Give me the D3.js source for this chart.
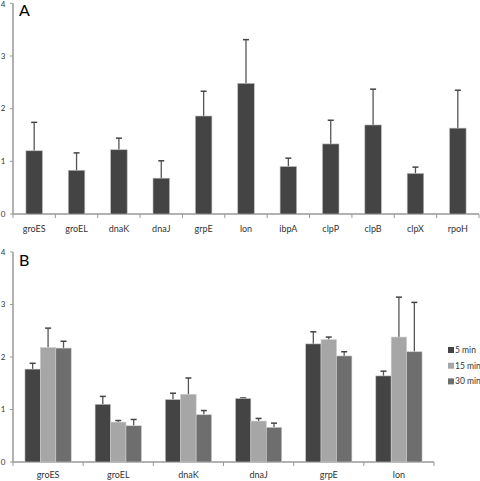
<!DOCTYPE html>
<html><head><meta charset="utf-8">
<script src="https://cdn.jsdelivr.net/npm/d3@7"></script>
<style>body{margin:0;background:#fff}svg{display:block}text{font-family:Lato,"Liberation Sans",sans-serif;fill:#333}</style>
</head><body><svg id="c" width="480" height="481"></svg>
<script>
const genesA = ["groES","groEL","dnaK","dnaJ","grpE","lon","ibpA","clpP","clpB","clpX","rpoH"];
const valuesA = [1.20,0.83,1.22,0.68,1.86,2.48,0.90,1.33,1.69,0.77,1.63];
const errTopA = [1.74,1.16,1.44,1.01,2.33,3.31,1.06,1.78,2.37,0.89,2.35];

const genesB = ["groES","groEL","dnaK","dnaJ","grpE","lon"];
const seriesB = ["5 min","15 min","30 min"];
const values5 = [1.77,1.10,1.19,1.21,2.25,1.64];
const values15 = [2.18,0.76,1.29,0.78,2.33,2.38];
const values30 = [2.17,0.69,0.90,0.66,2.02,2.10];
const errTop5 = [1.88,1.25,1.31,1.22,2.48,1.73];
const errTop15 = [2.55,0.79,1.60,0.83,2.38,3.14];
const errTop30 = [2.30,0.81,0.98,0.74,2.10,3.04];
const yTicks = [0,1,2,3,4];
const colors = ["#444444","#a6a6a6","#6e6e6e"];

const svg = d3.select("#c");

function drawAxes(g, x, y, x0, x1, labelOff) {
  g.append("line").attr("x1",x0).attr("x2",x0).attr("y1",y(4)).attr("y2",y(0))
    .attr("stroke","#999").attr("stroke-width",1.5);
  yTicks.forEach(t=>{
    g.append("line").attr("x1",x0-3).attr("x2",x0).attr("y1",y(t)).attr("y2",y(t)).attr("stroke","#999");
    g.append("text").attr("x",5.5).attr("y",Math.max(y(t),4.5)).attr("dy","0.35em").attr("text-anchor","end")
      .attr("font-size",8).text(t);
  });
  g.append("line").attr("x1",x0).attr("x2",x1).attr("y1",y(0)).attr("y2",y(0))
    .attr("stroke","#999").attr("stroke-width",1.5);
  const dom = x.domain();
  const edges = dom.map(d=>x(d)).concat([x(dom[dom.length-1])+x.step()]);
  edges.forEach(e=>{
    g.append("line").attr("x1",e).attr("x2",e).attr("y1",y(0)).attr("y2",y(0)+4).attr("stroke","#999");
  });
  dom.forEach(d=>{
    g.append("text").attr("x",x(d)+x.step()/2).attr("y",y(0)+labelOff).attr("text-anchor","middle")
      .attr("font-size",9).text(d);
  });
}

function errBar(g, cx, yTop, yVal) {
  g.append("line").attr("x1",cx).attr("x2",cx).attr("y1",yVal).attr("y2",yTop)
    .attr("stroke","#555").attr("stroke-width",1.3);
  g.append("line").attr("x1",cx-3).attr("x2",cx+3).attr("y1",yTop).attr("y2",yTop)
    .attr("stroke","#444").attr("stroke-width",1.5);
}

// Panel A
{
  const g = svg.append("g");
  const x = d3.scaleBand().domain(genesA).range([13,479]).paddingInner(0).paddingOuter(0);
  const y = d3.scaleLinear().domain([0,4]).range([214,3.3]);
  drawAxes(g,x,y,13,479,18);
  const bw = x.step()*0.39;
  genesA.forEach((d,i)=>{
    const cx = x(d)+x.step()/2;
    errBar(g,cx,y(errTopA[i]),y(valuesA[i]));
    g.append("rect").attr("x",cx-bw/2).attr("y",y(valuesA[i])).attr("width",bw)
      .attr("height",y(0)-y(valuesA[i])).attr("fill",colors[0]).attr("stroke","#bbb").attr("stroke-width",0.6);
  });
  g.append("text").attr("x",19).attr("y",16).attr("font-size",16).style("fill","#000").text("A");
}

// Panel B
{
  const g = svg.append("g");
  const x = d3.scaleBand().domain(genesB).range([13,434]);
  const y = d3.scaleLinear().domain([0,4]).range([462,252]);
  drawAxes(g,x,y,13,434,16);
  const vals = [values5,values15,values30];
  const errs = [errTop5,errTop15,errTop30];
  const groupW = x.step()*0.66;
  const xs = d3.scaleBand().domain(seriesB).range([0,groupW]);
  genesB.forEach((d,i)=>{
    const gx = x(d)+(x.step()-groupW)/2;
    seriesB.forEach((s,j)=>{
      const bx = gx+xs(s);
      const bw = xs.bandwidth();
      errBar(g,bx+bw/2,y(errs[j][i]),y(vals[j][i]));
      g.append("rect").attr("x",bx).attr("y",y(vals[j][i])).attr("width",bw)
        .attr("height",y(0)-y(vals[j][i])).attr("fill",colors[j]).attr("stroke","#ccc").attr("stroke-width",0.6);
    });
  });
  g.append("text").attr("x",19).attr("y",266).attr("font-size",16).style("fill","#000").text("B");
  seriesB.forEach((s,j)=>{
    const ly = 350 + j*15.7;
    g.append("rect").attr("x",448).attr("y",ly-3).attr("width",6).attr("height",6).attr("fill",colors[j]);
    g.append("text").attr("x",455).attr("y",ly).attr("dy","0.35em").attr("font-size",8.5).text(s);
  });
}
</script></body></html>
